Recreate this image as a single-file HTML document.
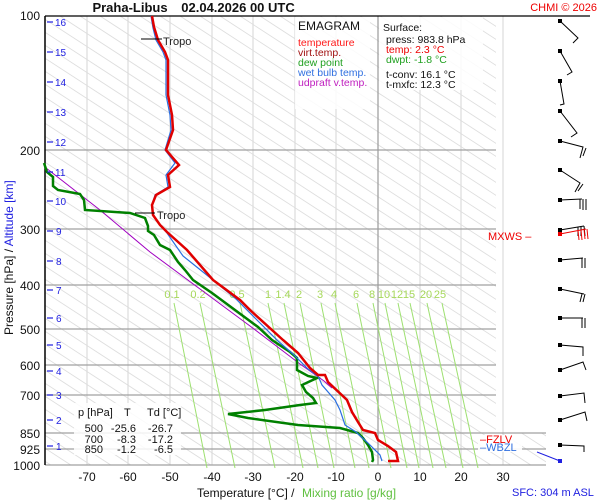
<!DOCTYPE html>
<html><head><meta charset="utf-8"><style>
html,body{margin:0;padding:0;background:#fff;width:600px;height:500px;overflow:hidden}
svg{display:block;font-family:"Liberation Sans",sans-serif}
</style></head><body>
<svg width="600" height="500" viewBox="0 0 600 500" xmlns="http://www.w3.org/2000/svg">
<rect width="600" height="500" fill="#fff"/>
<defs>
<clipPath id="pc"><polygon points="45,16 496,16 496,433 546,433 546,465 45,465"/></clipPath>
</defs>
<g clip-path="url(#pc)" stroke="#dedede" stroke-width="0.9" fill="none">
<path d="M-700,16 l800,520 M-680,16 l800,520 M-660,16 l800,520 M-640,16 l800,520 M-620,16 l800,520 M-600,16 l800,520 M-580,16 l800,520 M-560,16 l800,520 M-540,16 l800,520 M-520,16 l800,520 M-500,16 l800,520 M-480,16 l800,520 M-460,16 l800,520 M-440,16 l800,520 M-420,16 l800,520 M-400,16 l800,520 M-380,16 l800,520 M-360,16 l800,520 M-340,16 l800,520 M-320,16 l800,520 M-300,16 l800,520 M-280,16 l800,520 M-260,16 l800,520 M-240,16 l800,520 M-220,16 l800,520 M-200,16 l800,520 M-180,16 l800,520 M-160,16 l800,520 M-140,16 l800,520 M-120,16 l800,520 M-100,16 l800,520 M-80,16 l800,520 M-60,16 l800,520 M-40,16 l800,520 M-20,16 l800,520 M0,16 l800,520 M20,16 l800,520 M40,16 l800,520 M60,16 l800,520 M80,16 l800,520 M100,16 l800,520 M120,16 l800,520 M140,16 l800,520 M160,16 l800,520 M180,16 l800,520 M200,16 l800,520 M220,16 l800,520 M240,16 l800,520 M260,16 l800,520 M280,16 l800,520 M300,16 l800,520 M320,16 l800,520 M340,16 l800,520 M360,16 l800,520 M380,16 l800,520 M400,16 l800,520 M420,16 l800,520 M440,16 l800,520 M460,16 l800,520 M480,16 l800,520 M500,16 l800,520 M520,16 l800,520"/>
</g>
<!-- vertical grid -->
<g stroke="#dcdcdc" stroke-width="1.2">
<line x1="87" y1="16" x2="87" y2="465"/><line x1="128" y1="16" x2="128" y2="465"/><line x1="170" y1="16" x2="170" y2="465"/><line x1="212" y1="16" x2="212" y2="465"/><line x1="253" y1="16" x2="253" y2="465"/><line x1="295" y1="16" x2="295" y2="465"/><line x1="336" y1="16" x2="336" y2="465"/><line x1="420" y1="16" x2="420" y2="465"/><line x1="461" y1="16" x2="461" y2="465"/><line x1="503" y1="16" x2="503" y2="465"/>
</g>
<line x1="378" y1="16" x2="378" y2="465" stroke="#999" stroke-width="1.2"/>
<!-- horizontal grid -->
<g stroke="#a0a0a0" stroke-width="1.3">
<line x1="45" y1="150" x2="496" y2="150"/><line x1="45" y1="229" x2="496" y2="229"/><line x1="45" y1="285" x2="496" y2="285"/><line x1="45" y1="329" x2="496" y2="329"/><line x1="45" y1="365" x2="496" y2="365"/><line x1="45" y1="395" x2="496" y2="395"/><line x1="45" y1="433" x2="546" y2="433"/><line x1="45" y1="449" x2="546" y2="449"/><line x1="45" y1="465" x2="546" y2="465"/>
</g>
<line x1="45" y1="16" x2="590" y2="16" stroke="#000" stroke-width="1.2"/>
<line x1="45" y1="16" x2="45" y2="465" stroke="#000" stroke-width="1.5"/>
<!-- mixing ratio lines -->
<g stroke="#9de070" stroke-width="1">
<line x1="174" y1="303" x2="207" y2="468"/><line x1="200" y1="303" x2="235" y2="468"/><line x1="240" y1="303" x2="275" y2="468"/><line x1="268" y1="303" x2="303" y2="468"/><line x1="284" y1="303" x2="318" y2="468"/><line x1="300" y1="303" x2="334" y2="468"/><line x1="321" y1="303" x2="355" y2="468"/><line x1="335" y1="303" x2="369" y2="468"/><line x1="357" y1="303" x2="391" y2="468"/><line x1="373" y1="303" x2="407" y2="468"/><line x1="385" y1="303" x2="419" y2="468"/><line x1="398" y1="303" x2="433" y2="468"/><line x1="410" y1="303" x2="446" y2="468"/><line x1="427" y1="303" x2="463" y2="468"/><line x1="442" y1="303" x2="478" y2="468"/>
</g>
<g fill="#a6d85a" font-size="11" text-anchor="middle">
<text x="172" y="298">0.1</text><text x="198" y="298">0.2</text><text x="237" y="298">0.5</text><text x="268" y="298">1</text><text x="283" y="298">1.4</text><text x="299" y="298">2</text><text x="320" y="298">3</text><text x="334" y="298">4</text><text x="356" y="298">6</text><text x="372" y="298">8</text><text x="384" y="298">10</text><text x="397" y="298">12</text><text x="409" y="298">15</text><text x="426" y="298">20</text><text x="440" y="298">25</text>
</g>
<!-- updraft -->
<polyline fill="none" stroke="#a000c0" stroke-width="1" points="46,168 100,210 150,252 200,289 250,326 300,364 324,381 332,388"/>
<!-- dew point -->
<polyline fill="none" stroke="#008000" stroke-width="2.5" points="44,163 47,172 53,177 53,186 58,190 80,194 84,200 85,210 130,213 145,218 148,226 148,231 154,235 160,245 170,250 178,262 185,270 193,280 212,293 235,310 258,327 272,340 290,352 297,358 297,370 308,376 317,378 302,385 306,392 313,398 316,403 300,405 265,410 228,414 248,418 298,425 340,428 358,433 363,438 368,445 372,452 373,460 372,462"/>
<!-- wet bulb -->
<polyline fill="none" stroke="#2a6fe0" stroke-width="1.2" points="151,16 153,28 156,40 163,52 166,60 166,95 170,115 171,130 165,150 175,163 166,175 168,187 155,195 152,205 153,215 160,225 167,233 183,256 208,276 235,298 256,319 278,341 293,354 308,369 318,376 322,385 335,400 340,410 345,425 356,432 368,443 380,455 382,461"/>
<!-- temperature -->
<polyline fill="none" stroke="#e00000" stroke-width="2.5" points="152,16 154,27 158,40 165,52 168,60 168,95 172,115 173,130 166,150 179,165 168,175 170,187 156,195 152,205 153,215 160,225 167,232 187,250 213,280 240,300 250,310 283,340 298,353 310,368 318,375 325,375 328,382 347,400 352,412 358,422 363,430 375,433 378,440 388,446 396,452 398,461 388,461"/>
<!-- tropo -->
<g stroke="#000" stroke-width="1"><line x1="141" y1="39" x2="162" y2="39"/><line x1="135" y1="213" x2="155" y2="213"/></g>
<g font-size="11" fill="#222"><text x="163" y="45">Tropo</text><text x="157" y="219">Tropo</text></g>
<!-- legend boxes -->
<rect x="295" y="17" width="75" height="92" fill="#fff" opacity="0.85"/>
<rect x="379" y="17" width="104" height="73" fill="#fff" opacity="0.85"/>
<g font-size="10.5">
<text x="298" y="30" font-size="12" fill="#111">EMAGRAM</text>
<text x="298" y="46" fill="#ff1a1a">temperature</text>
<text x="298" y="56" fill="#a01010">virt.temp.</text>
<text x="298" y="66" fill="#20a020">dew point</text>
<text x="298" y="76" fill="#3070e0">wet bulb temp.</text>
<text x="298" y="86" fill="#c020c0">udpraft v.temp.</text>
<text x="383" y="31" fill="#111">Surface:</text>
<text x="386" y="43" fill="#111">press: 983.8 hPa</text>
<text x="386" y="53" fill="#e00">temp: 2.3 °C</text>
<text x="386" y="63" fill="#20a020">dwpt: -1.8 °C</text>
<text x="386" y="78" fill="#111">t-conv: 16.1 °C</text>
<text x="386" y="88" fill="#111">t-mxfc: 12.3 °C</text>
</g>
<!-- table -->
<rect x="74" y="403" width="107" height="52" fill="#fff" opacity="0.85"/>
<g font-size="11" fill="#111">
<text x="78" y="416">p [hPa]</text><text x="124" y="416">T</text><text x="147" y="416">Td [°C]</text>
<g text-anchor="end"><text x="103" y="432">500</text><text x="136" y="432">-25.6</text><text x="173" y="432">-26.7</text>
<text x="103" y="443">700</text><text x="136" y="443">-8.3</text><text x="173" y="443">-17.2</text>
<text x="103" y="453">850</text><text x="136" y="453">-1.2</text><text x="173" y="453">-6.5</text></g>
</g>
<!-- FZLV -->
<rect x="478" y="435" width="44" height="17" fill="#fff" opacity="0.9"/>
<g font-size="11"><text x="480" y="443" fill="#e00">–FZLV</text><text x="480" y="451" fill="#3070e0">–WBZL</text></g>
<text x="488" y="240" font-size="11" fill="#e00">MXWS –</text>
<!-- pressure labels -->
<g font-size="12" fill="#111" text-anchor="end">
<text x="40" y="20">100</text><text x="40" y="155">200</text><text x="40" y="234">300</text><text x="40" y="290">400</text><text x="40" y="334">500</text><text x="40" y="370">600</text><text x="40" y="400">700</text><text x="40" y="438">850</text><text x="40" y="454">925</text><text x="40" y="470">1000</text>
</g>
<!-- altitude -->
<g stroke="#2020e0" stroke-width="1.2">
<line x1="47" y1="22" x2="53" y2="22"/><line x1="47" y1="52" x2="53" y2="52"/><line x1="47" y1="82" x2="53" y2="82"/><line x1="47" y1="112" x2="53" y2="112"/><line x1="47" y1="142" x2="53" y2="142"/><line x1="47" y1="172" x2="53" y2="172"/><line x1="47" y1="201" x2="53" y2="201"/><line x1="47" y1="231" x2="53" y2="231"/><line x1="47" y1="261" x2="53" y2="261"/><line x1="47" y1="290" x2="53" y2="290"/><line x1="47" y1="318" x2="53" y2="318"/><line x1="47" y1="345" x2="53" y2="345"/><line x1="47" y1="371" x2="53" y2="371"/><line x1="47" y1="395" x2="53" y2="395"/><line x1="47" y1="420" x2="53" y2="420"/><line x1="47" y1="446" x2="53" y2="446"/>
</g>
<g font-size="10" fill="#2020e0">
<text x="55" y="26">16</text><text x="55" y="56">15</text><text x="55" y="86">14</text><text x="55" y="116">13</text><text x="55" y="146">12</text><text x="55" y="176">11</text><text x="55" y="205">10</text><text x="56" y="235">9</text><text x="56" y="265">8</text><text x="56" y="294">7</text><text x="56" y="322">6</text><text x="56" y="349">5</text><text x="56" y="375">4</text><text x="56" y="399">3</text><text x="56" y="424">2</text><text x="56" y="450">1</text>
</g>
<text transform="translate(13,335) rotate(-90)" font-size="12"><tspan fill="#111">Pressure [hPa]  /  </tspan><tspan fill="#2020e0">Altitude [km]</tspan></text>
<!-- temp labels -->
<g font-size="12" fill="#111" text-anchor="middle">
<text x="87" y="481">-70</text><text x="128" y="481">-60</text><text x="170" y="481">-50</text><text x="212" y="481">-40</text><text x="253" y="481">-30</text><text x="295" y="481">-20</text><text x="336" y="481">-10</text><text x="378" y="481">0</text><text x="420" y="481">10</text><text x="461" y="481">20</text><text x="503" y="481">30</text>
</g>
<text x="197" y="497" font-size="12" fill="#111">Temperature [°C]  /</text>
<text x="302" y="497" font-size="12" fill="#60c040">Mixing ratio [g/kg]</text>
<text x="512" y="496" font-size="11" fill="#2020e0">SFC: 304 m ASL</text>
<text x="130" y="12" font-size="13" font-weight="bold" fill="#111" text-anchor="middle">Praha-Libus</text>
<text x="238" y="12" font-size="13" font-weight="bold" fill="#111" text-anchor="middle">02.04.2026 00 UTC</text>
<text x="597" y="11" font-size="11" fill="#e00" text-anchor="end">CHMI © 2026</text>
<!-- wind barbs -->
<g stroke="#000" stroke-width="1" fill="none">
<path d="M560,21 L578,38 L573,43"/>
<path d="M560,51 L572,72 L567,75"/>
<path d="M560,81 L564,104 L560,105"/>
<path d="M560,111 L577,133 L571,137"/>
<path d="M560,141 L583,147 L580,158 M586,148 L583,156"/>
<path d="M560,170 L580,183 L575,192 M583,184 L578,191"/>
<path d="M560,200 L582,199 M580,199 L580,209 M583,199 L583,210 M586,199 L586,210"/>
<path d="M560,230 L584,226 M578,227 L578,236 M581,226 L581,236 M584,226 L585,236"/>
<path d="M560,260 L583,258 M582,258 L582,268 M585,258 L585,268"/>
<path d="M560,289 L584,294 M582,294 L580,302 M585,294 L583,302"/>
<path d="M560,318 L583,318 M582,318 L582,328 M585,318 L585,328"/>
<path d="M560,345 L583,347 L583,356"/>
<path d="M560,370 L583,362 L586,370"/>
<path d="M560,396 L584,393 L585,403"/>
<path d="M560,420 L585,412 L587,421"/>
<path d="M560,445 L584,446 L584,452"/>
</g>
<g fill="#000"><rect x="558" y="19" width="4" height="4"/><rect x="558" y="49" width="4" height="4"/><rect x="558" y="79" width="4" height="4"/><rect x="558" y="109" width="4" height="4"/><rect x="558" y="139" width="4" height="4"/><rect x="558" y="168" width="4" height="4"/><rect x="558" y="198" width="4" height="4"/><rect x="558" y="228" width="4" height="4"/><rect x="558" y="258" width="4" height="4"/><rect x="558" y="287" width="4" height="4"/><rect x="558" y="316" width="4" height="4"/><rect x="558" y="343" width="4" height="4"/><rect x="558" y="368" width="4" height="4"/><rect x="558" y="394" width="4" height="4"/><rect x="558" y="418" width="4" height="4"/><rect x="558" y="443" width="4" height="4"/></g>
<path d="M560,234 L586,229 M578,230 L579,240 M581,230 L582,240 M584,229 L585,239 M587,229 L588,239" stroke="#e00" stroke-width="1" fill="none"/>
<rect x="558" y="232" width="4" height="4" fill="#e00"/>
<path d="M537,452 L560,461" stroke="#2020e0" stroke-width="1"/>
<rect x="558" y="459" width="4" height="4" fill="#2020e0"/>
</svg>
</body></html>
